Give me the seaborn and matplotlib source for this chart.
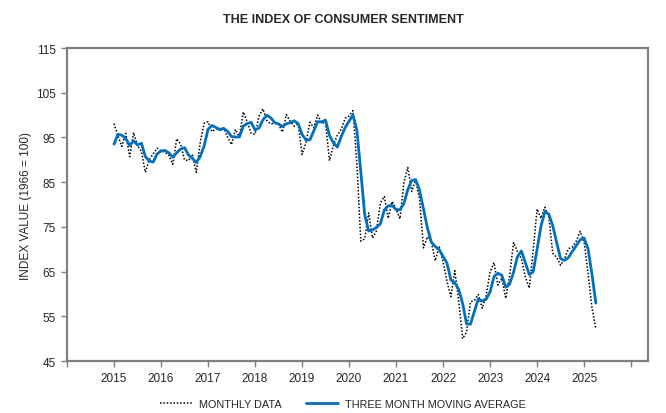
import pandas as pd
import numpy as np
import matplotlib
matplotlib.use("Agg")
import matplotlib.pyplot as plt
import seaborn as sns

# monthly index values, Jan 2015 - Apr 2025
monthly = [
    98.1, 95.4, 93.0, 95.9, 90.7, 96.1, 93.1, 91.9, 87.2, 90.0, 91.3, 92.6,   # 2015
    92.0, 91.7, 91.0, 89.0, 94.7, 93.5, 90.0, 89.8, 91.2, 87.2, 93.8, 98.2,   # 2016
    98.5, 96.3, 96.9, 97.0, 97.1, 95.1, 93.4, 96.8, 95.1, 100.7, 98.5, 95.9,  # 2017
    95.7, 99.7, 101.4, 98.8, 98.0, 98.2, 97.9, 96.2, 100.1, 98.6, 97.5, 98.3, # 2018
    91.2, 93.8, 98.4, 97.2, 100.0, 98.2, 98.4, 89.8, 93.2, 95.5, 96.8, 99.3,  # 2019
    99.8, 101.0, 89.1, 71.8, 72.3, 78.1, 72.5, 74.1, 80.4, 81.8, 76.9, 80.7,  # 2020
    79.0, 76.8, 84.9, 88.3, 82.9, 85.5, 81.2, 70.3, 72.8, 71.7, 67.4, 70.6,   # 2021
    67.2, 62.8, 59.4, 65.2, 58.4, 50.0, 51.5, 58.2, 58.6, 59.9, 56.8, 59.7,   # 2022
    64.9, 67.0, 62.0, 63.5, 59.0, 64.2, 71.5, 69.4, 67.9, 63.8, 61.3, 69.7,   # 2023
    79.0, 76.9, 79.4, 77.2, 69.1, 68.2, 66.4, 67.9, 70.1, 70.5, 71.8, 74.0,   # 2024
    71.7, 64.7, 57.0, 52.2,                                                   # 2025
]

# three month moving average, same months
moving_avg = [
    93.50, 95.70, 95.50, 94.77, 93.20, 94.23, 93.30, 93.70, 90.73, 89.70, 89.50, 91.30,
    91.97, 92.10, 91.57, 90.57, 91.57, 92.40, 92.73, 91.10, 90.33, 89.40, 90.73, 93.07,
    96.83, 97.67, 97.23, 96.73, 97.00, 96.40, 95.20, 95.10, 95.10, 97.53, 98.10, 98.37,
    96.70, 97.10, 98.93, 99.97, 99.40, 98.33, 98.03, 97.43, 98.07, 98.30, 98.73, 98.13,
    95.67, 94.43, 94.47, 96.47, 98.53, 98.47, 98.87, 95.47, 93.80, 92.83, 95.17, 97.20,
    98.63, 100.03, 96.63, 87.30, 77.73, 74.07, 74.30, 74.90, 75.67, 78.77, 79.70, 79.80,
    78.87, 78.83, 80.23, 83.33, 85.37, 85.57, 83.20, 79.00, 74.77, 71.60, 70.63, 69.90,
    68.40, 66.87, 63.13, 62.47, 61.00, 57.87, 53.30, 53.23, 56.10, 58.90, 58.43, 58.80,
    60.47, 63.87, 64.63, 64.17, 61.50, 62.23, 64.90, 68.37, 69.60, 67.03, 64.33, 64.93,
    70.00, 75.20, 78.43, 77.83, 75.23, 71.50, 67.90, 67.50, 68.13, 69.50, 70.80, 72.10,
    72.50, 70.13, 64.47, 57.97,
]

year_labels = [str(y) for y in range(2015, 2026)]

df = pd.DataFrame({
    "t": 2015 + np.arange(len(monthly)) / 12.0,
    "monthly": monthly,
    "ma": moving_avg,
})

sns.set_style("white")
plt.rcParams["font.family"] = ["Liberation Sans", "DejaVu Sans"]

fig = plt.figure(figsize=(6.66, 4.14), dpi=100)
ax = fig.add_axes([0.1006, 0.1256, 0.8724, 0.756])

sns.lineplot(data=df, x="t", y="monthly", ax=ax, color="black", linestyle=(0, (1, 1.2)),
             linewidth=1.1, label="MONTHLY DATA")
sns.lineplot(data=df, x="t", y="ma", ax=ax, color="#0070C0", linewidth=2.0,
             label="THREE MONTH MOVING AVERAGE")

ax.set_xlim(2014, 2026.36)
ax.set_ylim(45, 115)
ax.set_xticks(range(2014, 2027))
ax.set_xticklabels([""] + year_labels + [""])
ax.set_yticks(range(45, 116, 10))
ax.tick_params(axis="both", direction="out", length=4, width=1, color="#808080",
               labelsize=8.5, pad=4, bottom=True, left=True)
for s in ax.spines.values():
    s.set_color("#808080")
    s.set_linewidth(1.6)

ax.set_xlabel("")
ax.set_ylabel("INDEX VALUE (1966 = 100)", fontsize=8.5, labelpad=3)
fig.text(0.515, 0.951, "THE INDEX OF CONSUMER SENTIMENT", ha="center", va="center",
         fontsize=9, fontweight="bold")

ax.get_legend().remove()
h, l = ax.get_legend_handles_labels()
fig.legend(h, l, loc="center", bbox_to_anchor=(0.515, 0.022), ncol=2, frameon=False,
           fontsize=7.8, handlelength=3.0, columnspacing=2.2, handletextpad=0.6)

fig.savefig("out.png", dpi=100)
